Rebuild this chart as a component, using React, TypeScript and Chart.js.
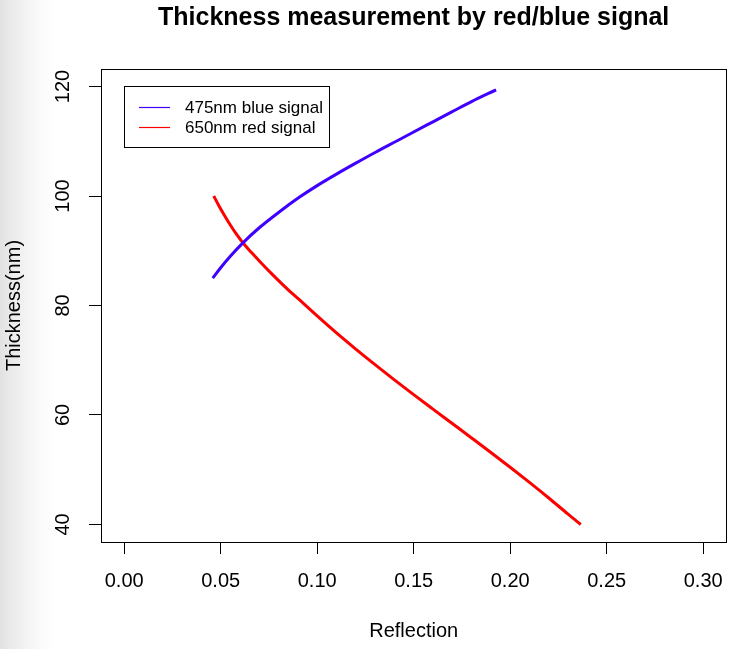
import React, { useEffect, useRef } from 'react';
import { Chart, registerables } from 'chart.js';

Chart.register(...registerables);

const chartTitle = 'Thickness measurement by red/blue signal';
const xAxisTitle = 'Reflection';
const yAxisTitle = 'Thickness(nm)';
const seriesLabels = ['475nm blue signal', '650nm red signal'];
const seriesColors = ['#4000ff', '#ff0000'];

const blueReflection = [0.0459, 0.05, 0.055, 0.0614, 0.07, 0.08, 0.0909, 0.1, 0.11, 0.12, 0.13, 0.1415, 0.15, 0.16, 0.17, 0.18, 0.1927];
const blueThickness = [85.0, 86.9, 89.0, 91.4, 94.2, 97.0, 99.8, 101.9, 104.0, 106.0, 107.95, 110.1, 111.7, 113.55, 115.4, 117.25, 119.4];

const redReflection = [0.0464, 0.049, 0.052, 0.055, 0.058, 0.0614, 0.066, 0.071, 0.077, 0.0857, 0.09, 0.1, 0.11, 0.12, 0.13, 0.14, 0.15, 0.16, 0.17, 0.18, 0.19, 0.2, 0.21, 0.22, 0.23, 0.2366];
const redThickness = [100.0, 98.28, 96.44, 94.7, 93.11, 91.51, 89.66, 87.76, 85.6, 82.64, 81.3, 78.09, 74.99, 72.04, 69.19, 66.42, 63.72, 61.07, 58.44, 55.81, 53.16, 50.46, 47.69, 44.84, 41.89, 40.0];

const xTickValues = [0, 0.05, 0.1, 0.15, 0.2, 0.25, 0.3];
const yTickValues = [40, 60, 80, 100, 120];
const xRange = [-0.012, 0.312];
const yRange = [36.8, 123.2];

const FONT = "'Liberation Sans', Arial, Helvetica, sans-serif";

const framePlugin = {
  id: 'rFrame',
  afterDraw(chart: any) {
    const { ctx, chartArea: a } = chart;
    ctx.save();
    ctx.strokeStyle = '#000';
    ctx.lineWidth = 1;
    ctx.strokeRect(Math.round(a.left) + 0.5, Math.round(a.top) + 0.5, Math.round(a.right - a.left), Math.round(a.bottom - a.top));
    ctx.restore();
  },
};

const titlePlugin = {
  id: 'rTitle',
  afterDraw(chart: any) {
    const { ctx, chartArea: a } = chart;
    ctx.save();
    ctx.fillStyle = '#000';
    ctx.font = `bold 25px ${FONT}`;
    ctx.textAlign = 'center';
    ctx.textBaseline = 'alphabetic';
    ctx.fillText(chartTitle, (a.left + a.right) / 2, 25);
    ctx.restore();
  },
};

const legendPlugin = {
  id: 'rLegend',
  afterDraw(chart: any) {
    const { ctx, chartArea: a } = chart;
    const bx = Math.round(a.left) + 23;
    const by = Math.round(a.top) + 17;
    const bw = 205;
    const bh = 61;
    ctx.save();
    ctx.fillStyle = '#fff';
    ctx.fillRect(bx, by, bw, bh);
    ctx.strokeStyle = '#000';
    ctx.lineWidth = 1;
    ctx.strokeRect(bx + 0.5, by + 0.5, bw, bh);
    ctx.font = `17px ${FONT}`;
    ctx.textBaseline = 'middle';
    ctx.textAlign = 'left';
    seriesLabels.forEach((label, i) => {
      const y = by + 21 + i * 20;
      ctx.strokeStyle = seriesColors[i];
      ctx.lineWidth = 1.2;
      ctx.beginPath();
      ctx.moveTo(bx + 15, y + 0.5);
      ctx.lineTo(bx + 46, y + 0.5);
      ctx.stroke();
      ctx.fillStyle = '#000';
      ctx.fillText(label, bx + 61, y + 1);
    });
    ctx.restore();
  },
};

export default function App() {
  const canvasRef = useRef<HTMLCanvasElement | null>(null);

  useEffect(() => {
    const canvas = canvasRef.current;
    if (!canvas) return;
    Chart.defaults.font.family = FONT;
    Chart.defaults.color = '#000';
    const blueData = blueReflection.map((x, i) => ({ x, y: blueThickness[i] }));
    const redData = redReflection.map((x, i) => ({ x, y: redThickness[i] }));
    const chart = new Chart(canvas, {
      type: 'scatter',
      data: {
        datasets: [
          {
            label: seriesLabels[0],
            data: blueData,
            showLine: true,
            borderColor: seriesColors[0],
            backgroundColor: seriesColors[0],
            borderWidth: 3,
            pointRadius: 0,
            cubicInterpolationMode: 'monotone',
          },
          {
            label: seriesLabels[1],
            data: redData,
            showLine: true,
            borderColor: seriesColors[1],
            backgroundColor: seriesColors[1],
            borderWidth: 3,
            pointRadius: 0,
            cubicInterpolationMode: 'monotone',
          },
        ],
      },
      options: {
        animation: false,
        responsive: false,
        devicePixelRatio: 1,
        events: [],
        layout: { padding: { top: 69, right: 10, left: 0, bottom: 0 } },
        plugins: {
          legend: { display: false },
          title: { display: false },
          tooltip: { enabled: false },
        },
        scales: {
          x: {
            type: 'linear',
            position: 'bottom',
            min: xRange[0],
            max: xRange[1],
            afterBuildTicks: (axis: any) => {
              axis.ticks = xTickValues.map((v) => ({ value: v }));
            },
            afterFit: (scale: any) => {
              scale.height = 107;
            },
            grid: {
              drawOnChartArea: false,
              drawTicks: true,
              tickLength: 12,
              tickColor: '#000',
              color: '#000',
              lineWidth: 1,
            },
            border: { display: false },
            ticks: {
              font: { size: 20 },
              color: '#000',
              padding: 15,
              maxRotation: 0,
              minRotation: 0,
              callback: (v: any) => Number(v).toFixed(2),
            },
            title: {
              display: true,
              text: xAxisTitle,
              font: { size: 20 },
              color: '#000',
              padding: { top: 0, bottom: 6 },
            },
          },
          y: {
            type: 'linear',
            position: 'left',
            min: yRange[0],
            max: yRange[1],
            afterBuildTicks: (axis: any) => {
              axis.ticks = yTickValues.map((v) => ({ value: v }));
            },
            afterFit: (scale: any) => {
              scale.width = 101;
            },
            grid: {
              drawOnChartArea: false,
              drawTicks: true,
              tickLength: 12,
              tickColor: '#000',
              color: '#000',
              lineWidth: 1,
            },
            border: { display: false },
            ticks: {
              font: { size: 20 },
              color: '#000',
              padding: 9,
              minRotation: 90,
              maxRotation: 90,
              crossAlign: 'center',
              callback: (v: any) => String(v),
            },
            title: {
              display: true,
              text: yAxisTitle,
              font: { size: 20 },
              color: '#000',
              padding: { top: 2, bottom: 0 },
            },
          },
        },
      },
      plugins: [framePlugin, titlePlugin, legendPlugin],
    } as any);
    return () => chart.destroy();
  }, []);

  return (
    <div
      style={{
        position: 'fixed',
        left: 0,
        top: 0,
        width: 738,
        height: 649,
        background: 'linear-gradient(to right, #e2e2e2 0px, #ececec 14px, #f8f8f8 35px, #ffffff 55px)',
      }}
    >
      <canvas ref={canvasRef} width={738} height={649} style={{ display: 'block' }} />
    </div>
  );
}
